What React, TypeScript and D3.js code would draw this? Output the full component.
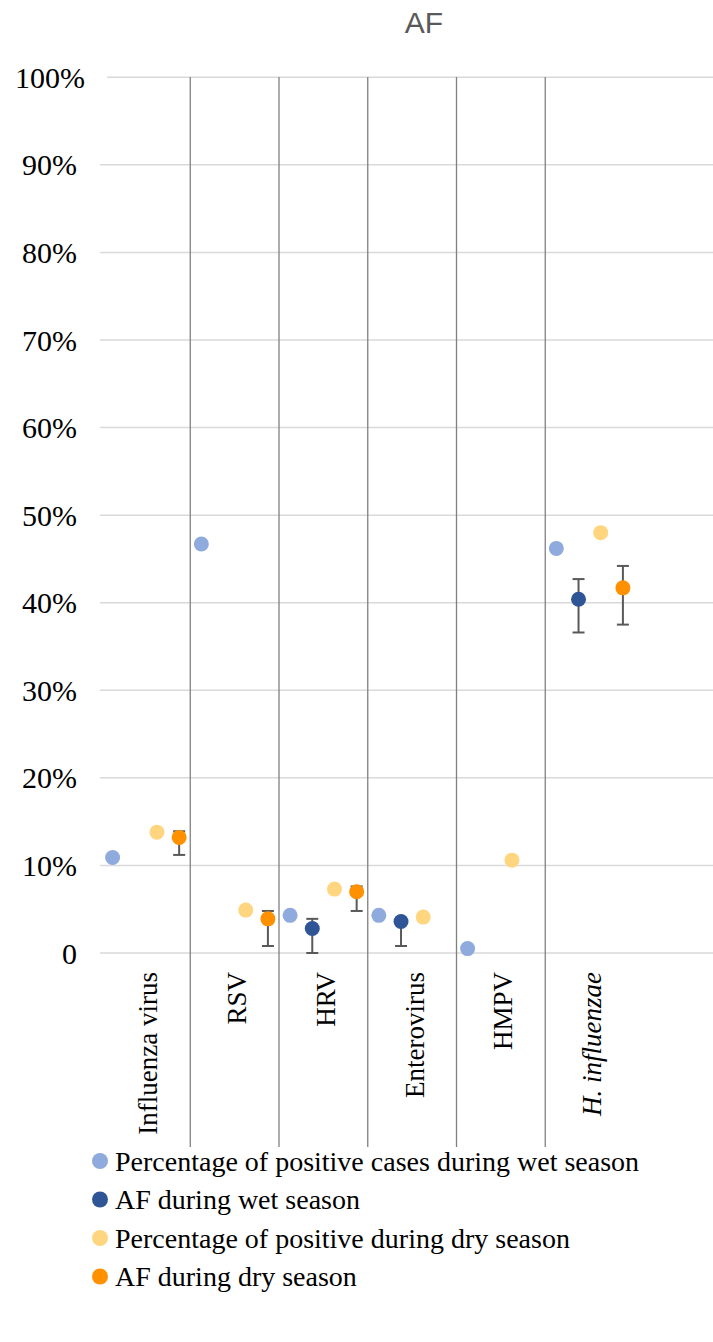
import React, { useEffect, useRef } from 'react';
import { scaleBand, scaleLinear, select } from 'd3';

const categories = ['Influenza virus', 'RSV', 'HRV', 'Enterovirus', 'HMPV', 'H. influenzae'];
const seriesNames = [
  'Percentage of positive cases during wet season',
  'AF during wet season',
  'Percentage of positive during dry season',
  'AF during dry season',
];
const seriesColors = ['#8FAADC', '#2F5597', '#FFD67F', '#FF9000'];

// values in percent, null = no point
const wetPct = [10.9, 46.7, 4.3, 4.3, 0.5, 46.2];
const afWet = [null, null, 2.8, 3.6, null, 40.4];
const afWetLow = [null, null, 0.0, 0.8, null, 36.6];
const afWetHigh = [null, null, 3.9, 4.0, null, 42.7];
const dryPct = [13.8, 4.9, 7.3, 4.1, 10.6, 48.0];
const afDry = [13.2, 3.9, 7.0, null, null, 41.7];
const afDryLow = [11.2, 0.8, 4.8, null, null, 37.5];
const afDryHigh = [13.9, 4.8, 7.6, null, null, 44.2];

const yTicks = [0, 10, 20, 30, 40, 50, 60, 70, 80, 90, 100];

const W = 713, H = 1342;
const serif = "'Times New Roman', 'Liberation Serif', serif";

export default function App() {
  const svgRef = useRef<SVGSVGElement>(null);

  useEffect(() => {
    const svg = select(svgRef.current);
    svg.selectAll('*').remove();

    const y = scaleLinear().domain([0, 100]).range([953, 77.3]);
    const x = scaleBand().domain(categories).range([101.5, 634]).padding(0);
    const inner = scaleBand().domain(seriesNames).range([0, x.bandwidth()]);
    const px = (cat: string, s: number) => x(cat)! + inner(seriesNames[s])! + inner.bandwidth() / 2;

    svg.append('rect').attr('width', W).attr('height', H).attr('fill', '#fff');

    // title
    svg.append('text')
      .attr('x', 424).attr('y', 33)
      .attr('text-anchor', 'middle')
      .attr('font-family', "'Liberation Sans', sans-serif")
      .attr('font-size', 30)
      .attr('fill', '#595959')
      .text('AF');

    // horizontal gridlines
    svg.append('g').selectAll('line').data(yTicks).join('line')
      .attr('x1', d => (d === 100 ? 107 : 100)).attr('x2', W)
      .attr('y1', d => y(d)).attr('y2', d => y(d))
      .attr('stroke', '#D9D9D9').attr('stroke-width', 1.5);

    // y labels
    svg.append('g').selectAll('text').data(yTicks).join('text')
      .attr('x', d => (d === 100 ? 85 : 77))
      .attr('y', d => y(d))
      .attr('dy', '0.35em')
      .attr('text-anchor', 'end')
      .attr('font-family', serif)
      .attr('font-size', 30)
      .attr('fill', '#000')
      .text(d => (d === 0 ? '0' : `${d}%`));

    // category separators
    const seps = categories.slice(1).map(c => x(c)!);
    svg.append('g').selectAll('line').data(seps).join('line')
      .attr('x1', d => d).attr('x2', d => d)
      .attr('y1', 77).attr('y2', 1147)
      .attr('stroke', '#808080').attr('stroke-width', 1.3);

    // category labels
    svg.append('g').selectAll('text').data(categories).join('text')
      .attr('transform', d => `translate(${x(d)! + x.bandwidth() / 2 + 2},972) rotate(-90)`)
      .attr('dy', '0.35em')
      .attr('text-anchor', 'end')
      .attr('font-family', serif)
      .attr('font-size', 27)
      .attr('font-style', d => (d === 'H. influenzae' ? 'italic' : 'normal'))
      .attr('fill', '#000')
      .text(d => d);

    const series = [wetPct, afWet, dryPct, afDry];
    const errs = [null, [afWetLow, afWetHigh], null, [afDryLow, afDryHigh]];

    // error bars (behind markers)
    const eg = svg.append('g').attr('stroke', '#595959').attr('stroke-width', 2);
    errs.forEach((e, s) => {
      if (!e) return;
      categories.forEach((c, i) => {
        const lo = e[0][i], hi = e[1][i];
        if (lo == null || hi == null) return;
        const cx = px(c, s);
        eg.append('line').attr('x1', cx).attr('x2', cx).attr('y1', y(lo)).attr('y2', y(hi));
        eg.append('line').attr('x1', cx - 6).attr('x2', cx + 6).attr('y1', y(lo)).attr('y2', y(lo));
        eg.append('line').attr('x1', cx - 6).attr('x2', cx + 6).attr('y1', y(hi)).attr('y2', y(hi));
      });
    });

    // markers
    series.forEach((vals, s) => {
      const pts = categories.map((c, i) => ({ c, v: vals[i] })).filter(p => p.v != null);
      svg.append('g').selectAll('circle').data(pts).join('circle')
        .attr('cx', p => px(p.c, s))
        .attr('cy', p => y(p.v as number))
        .attr('r', 7.5)
        .attr('fill', seriesColors[s]);
    });

    // legend
    const lg = svg.append('g').selectAll('g').data(seriesNames).join('g')
      .attr('transform', (_, i) => `translate(100,${1161 + i * 38.5})`);
    lg.append('circle').attr('r', 8).attr('fill', (_, i) => seriesColors[i]);
    lg.append('text')
      .attr('x', 15).attr('dy', '0.35em')
      .attr('font-family', serif)
      .attr('font-size', 28)
      .attr('fill', '#000')
      .text(d => d);
  }, []);

  return (
    <svg
      ref={svgRef}
      width={W}
      height={H}
      style={{ position: 'absolute', left: 0, top: 0, display: 'block' }}
    />
  );
}
